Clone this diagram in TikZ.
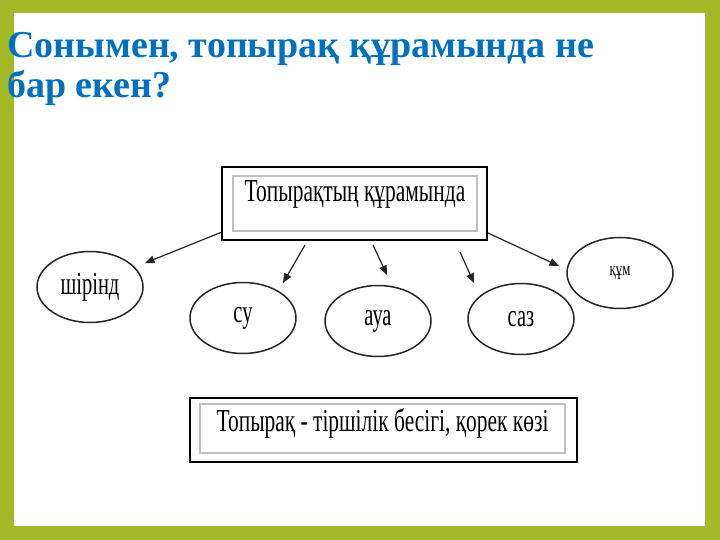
\documentclass[tikz,border=0pt]{standalone}
\usepackage{fontspec}
\setmainfont{Liberation Serif}
\newfontfamily\boxfont[FakeStretch=0.67]{Liberation Serif}
\newfontfamily\partfont[FakeStretch=0.64]{Liberation Serif}
\usetikzlibrary{arrows,positioning,shapes.geometric}
\definecolor{framegreen}{RGB}{164,185,40}
\definecolor{titleblue}{RGB}{0,112,192}

\begin{document}
\begin{tikzpicture}[x=1pt, y=-1pt, ->, >=triangle 45, semithick]
		\tikzstyle{part}=[ellipse, draw=black!85, line width=1.5pt, minimum width=106pt, minimum height=71pt, inner sep=0pt, font=\partfont\fontsize{32}{32}\selectfont]
		\tikzstyle{outerbox}=[rectangle, draw=black, line width=2.2pt, inner sep=0pt]
		\tikzstyle{innerbox}=[rectangle, draw=black!25, line width=1.2pt, inner sep=0pt, font=\boxfont\fontsize{32}{32}\selectfont]
		\tikzstyle{headline}=[anchor=base west, inner sep=0pt, text=titleblue, font=\bfseries\fontsize{38}{38}\selectfont]
		\tikzstyle{pointer}=[line width=1.2pt, black!85]
		% frame
		\fill[framegreen] (0,0) rectangle (720,540);
		\fill[white] (14,13) rectangle (705,526);
		\useasboundingbox (0,0) rectangle (720,540);
		% title
		\node[headline] (title1) at (7,58) {Сонымен, топырақ құрамында не};
		\node[headline] (title2) at (7,98) {бар екен?};
		% boxes
		\node[outerbox, minimum width=265pt, minimum height=73pt] (top) at (354.5,203.5) {};
		\node[innerbox, minimum width=244pt, text height=26pt, text depth=29pt] (topin) at (355,203.5) {Топырақтың құрамында};
		\node[outerbox, minimum width=387pt, minimum height=64pt] (bottom) at (383.5,430) {};
		\node[innerbox, minimum width=365pt, text height=27pt, text depth=22pt] (bottomin) at (382.5,428.5) {Топырақ - тіршілік бесігі, қорек көзі};
		% parts
		\node[part] (shirind) at (90,287)  {шірінд};
		\node[part] (su)      at (243,318) {су};
		\node[part] (aua)     at (378,321) {ауа};
		\node[part] (saz)     at (521,319) {саз};
		\node[part, font=\boxfont\fontsize{19}{19}\selectfont] (qum) at (620,273) {құм};
		% arrows
		\coordinate (shirind-tail) at (222,232);
		\coordinate (shirind-head) at (145,263);
		\coordinate (su-tail)      at (305,245);
		\coordinate (su-head)      at (283,283);
		\coordinate (aua-tail)     at (373,245);
		\coordinate (aua-head)     at (387,275);
		\coordinate (saz-tail)     at (460,252);
		\coordinate (saz-head)     at (474,283);
		\coordinate (qum-tail)     at (488,233);
		\coordinate (qum-head)     at (559,266);
		\path[pointer]
		(shirind-tail) edge (shirind-head)
		(su-tail)      edge (su-head)
		(aua-tail)     edge (aua-head)
		(saz-tail)     edge (saz-head)
		(qum-tail)     edge (qum-head);
	\end{tikzpicture}
\end{document}
